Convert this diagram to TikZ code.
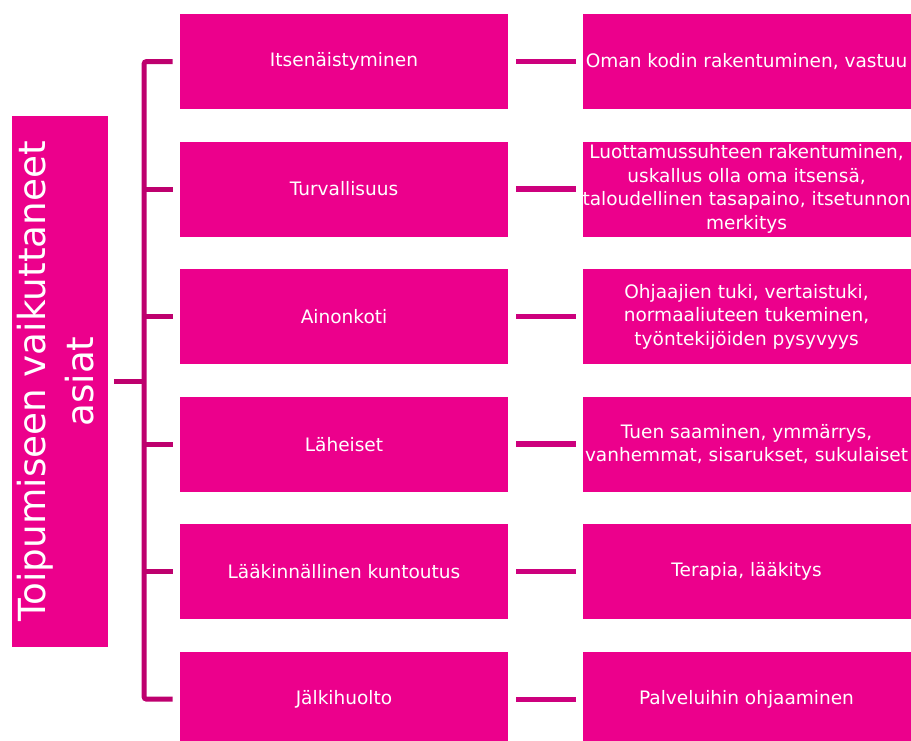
\documentclass[tikz,border=0pt]{standalone}
\usepackage{graphicx}
\usepackage{fontspec}
\setmainfont{DejaVu Sans}
\usepackage{tikz}
\usetikzlibrary{positioning}
\definecolor{boxpink} {RGB}{236,0,140}
\definecolor{trunkpink}{RGB}{190,0,110}
\definecolor{linkpink}{RGB}{205,0,125}
\tikzset{
  itembox/.style={fill=boxpink, text=white, align=center,
                  minimum width=246pt, minimum height=71.25pt,
                  inner sep=0pt, font=\fontsize{13.9}{17.6}\selectfont},
  rootbox/.style={fill=boxpink, text=white,
                  minimum width=71.25pt, minimum height=398.25pt,
                  inner sep=0pt, font=\fontsize{28}{36}\selectfont},
  %% connectors
  trunk/.style  ={trunkpink, line width=3.75pt},
  link/.style   ={linkpink, line width=4pt},
}
\begin{document}
\begin{tikzpicture}[x=0.75pt,y=-0.75pt,node distance=24.0pt and 55.5pt]
  \useasboundingbox (0,0) rectangle (911,740);
  \node[rootbox] (root) at (59.5,381.5)
    {\rotatebox{90}{\begin{tabular}{@{}c@{}}Toipumiseen vaikuttaneet\\asiat\end{tabular}}};
  \node[itembox] (itse) at (344,61.5) {Itsenäistyminen};
  \node[itembox, below=of itse] (turva) {Turvallisuus};
  \node[itembox, below=of turva] (aino) {Ainonkoti};
  \node[itembox, below=of aino] (lah) {Läheiset};
  \node[itembox, below=of lah] (laak) {Lääkinnällinen kuntoutus};
  \node[itembox, below=of laak] (jalki) {Jälkihuolto};
  \node[itembox, right=of itse] (koti) {Oman kodin rakentuminen, vastuu};
  \node[itembox, right=of turva] (luott) {Luottamussuhteen rakentuminen,\\uskallus olla oma itsensä,\\taloudellinen tasapaino, itsetunnon\\merkitys};
  \node[itembox, right=of aino] (ohj) {Ohjaajien tuki, vertaistuki,\\normaaliuteen tukeminen,\\työntekijöiden pysyvyys};
  \node[itembox, right=of lah] (tuki) {Tuen saaminen, ymmärrys,\\vanhemmat, sisarukset, sukulaiset};
  \node[itembox, right=of laak] (ter) {Terapia, lääkitys};
  \node[itembox, right=of jalki] (palv) {Palveluihin ohjaaminen};
  \coordinate (trk) at (144,381.5);
  \draw[trunk] ([xshift=4.5pt]root.east) -- (trk);
  \draw[trunk, rounded corners=2pt] ([xshift=-5.25pt]itse.west) -| (trk) |- ([xshift=-5.25pt]jalki.west);
  \draw[trunk] (trk |- turva.west) -- ([xshift=-5.25pt]turva.west);
  \draw[trunk] (trk |- aino.west) -- ([xshift=-5.25pt]aino.west);
  \draw[trunk] (trk |- lah.west) -- ([xshift=-5.25pt]lah.west);
  \draw[trunk] (trk |- laak.west) -- ([xshift=-5.25pt]laak.west);
  \draw[link] ([xshift=6pt]itse.east) -- ([xshift=-4.5pt]koti.west);
  \draw[link] ([xshift=6pt]turva.east) -- ([xshift=-4.5pt]luott.west);
  \draw[link] ([xshift=6pt]aino.east) -- ([xshift=-4.5pt]ohj.west);
  \draw[link] ([xshift=6pt]lah.east) -- ([xshift=-4.5pt]tuki.west);
  \draw[link] ([xshift=6pt]laak.east) -- ([xshift=-4.5pt]ter.west);
  \draw[link] ([xshift=6pt]jalki.east) -- ([xshift=-4.5pt]palv.west);
\end{tikzpicture}
\end{document}
